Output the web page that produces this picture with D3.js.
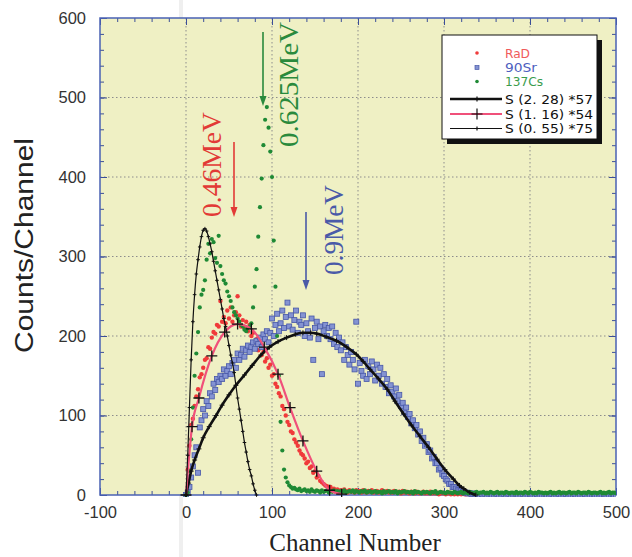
<!DOCTYPE html>
<html>
<head>
<meta charset="utf-8">
<script src="https://cdn.jsdelivr.net/npm/d3@7/dist/d3.min.js"></script>
<style>
  body { margin: 0; background: #fff; }
  svg { display: block; }
</style>
</head>
<body>
<div id="chart"></div>
<script>
// measured counts, one value every 2 channels starting at channel 0
var channelStep = 2;

var radCounts = [
  0, 32, 62, 88, 96, 112, 124, 133, 148, 152,
  160, 170, 172, 186, 184, 198, 205, 203, 214, 212,
  244, 218, 224, 216, 232, 222, 236, 218, 226, 230,
  250, 226, 212, 220, 210, 218, 206, 214, 200, 204,
  192, 196, 182, 190, 176, 180, 168, 172, 160, 164,
  150, 152, 140, 136, 128, 124, 112, 108, 100, 92,
  88, 80, 78, 70, 66, 62, 56, 52, 50, 46,
  40, 42, 34, 36, 28, 30, 22, 24, 18, 16,
  14, 12, 11, 9, 10, 7, 8, 6, 7, 5,
  6, 4, 7, 5, 3, 6, 4, 5, 3, 6,
  4, 5, 3, 6, 4, 3, 5, 4, 6, 3,
  4, 5, 3, 4, 6, 3, 4, 5, 3, 4,
  3, 5, 4, 3, 4, 2, 5, 3, 4, 3,
  2, 4, 3, 2, 4, 3, 2, 3, 4, 2,
  3, 2, 4, 2, 3, 2, 3, 1, 2, 3,
  2, 1, 2, 3, 1, 2, 1, 2, 1, 2,
  1, 2, 1, 1, 2, 1, 0, 1, 2, 1,
  1, 0, 1, 1, 0, 2, 1, 0, 1, 1,
  0, 1, 1, 0, 1, 0, 1, 1, 0, 1,
  1, 0, 1, 0, 1, 1, 0, 1, 0, 1,
  0, 1, 1, 0, 1, 0, 0, 1, 1, 0,
  1, 0, 1, 0, 0, 1, 0, 1, 0, 1,
  0, 1, 0, 0, 1, 0, 1, 0, 0, 1,
  0, 1, 0, 1, 0, 0, 1, 0, 1, 0,
  0, 1, 0, 0, 1, 0, 1, 0, 0, 1,
  0
];

var sr90Counts = [
  0, 3, 10, 22, 36, 50, 60, 28, 85, 94,
  108, 100, 118, 112, 128, 124, 140, 132, 146, 142,
  150, 146, 158, 150, 156, 162, 152, 166, 170, 160,
  178, 170, 176, 184, 174, 182, 188, 180, 186, 192,
  184, 194, 190, 198, 186, 202, 196, 206, 192, 204,
  222, 200, 214, 228, 206, 216, 232, 210, 224, 242,
  212, 226, 208, 220, 232, 204, 218, 214, 226, 200,
  216, 206, 198, 222, 170, 210, 218, 196, 212, 152,
  206, 214, 200, 210, 196, 212, 190, 204, 186, 198,
  182, 192, 170, 186, 176, 164, 180, 170, 158, 218,
  140, 166, 156, 150, 170, 146, 162, 152, 168, 158,
  144, 164, 150, 160, 140, 152, 136, 146, 128, 138,
  130, 124, 134, 118, 126, 112, 116, 104, 110, 98,
  102, 90, 94, 84, 88, 76, 80, 68, 72, 62,
  64, 54, 56, 46, 48, 40, 40, 32, 34, 26,
  24, 20, 18, 14, 14, 10, 10, 8, 6, 6,
  5, 4, 3, 3, 2, 2, 1, 2, 1, 1,
  1, 0, 1, 0, 1, 0, 0, 1, 0, 0,
  0, 1, 0, 0, 0, 1, 0, 0, 1, 0,
  0, 0, 1, 0, 0, 0, 1, 0, 0, 0,
  1, 0, 0, 0, 1, 0, 0, 0, 0, 1,
  0, 0, 0, 1, 0, 0, 0, 1, 0, 0,
  0, 1, 0, 0, 0, 0, 1, 0, 0, 0,
  0, 0, 1, 0, 0, 0, 0, 1, 0, 0,
  0, 0, 0, 1, 0, 0, 0, 0, 1, 0,
  0
];

var cs137Counts = [
  0, 3, 30, 70, 110, 150, 178, 205, 236, 252,
  258, 270, 296, 316, 304, 322, 318, 298, 292, 326,
  288, 278, 270, 266, 256, 250, 244, 236, 230, 226,
  222, 218, 214, 212, 208, 206, 210, 212, 216, 236,
  262, 284, 325, 362, 398, 440, 472, 488, 462, 432,
  400, 320, 262, 200, 150, 92, 56, 32, 22, 16,
  12, 10, 8, 9, 7, 6, 8, 5, 6, 7,
  5, 6, 4, 7, 5, 4, 6, 5, 3, 6,
  4, 5, 6, 3, 5, 4, 6, 4, 5, 3,
  5, 4, 6, 3, 4, 5, 4, 6, 3, 5,
  4, 3, 5, 4, 6, 3, 4, 5, 3, 4,
  5, 3, 4, 4, 2, 5, 3, 4, 5, 3,
  4, 3, 5, 2, 4, 3, 4, 5, 3, 4,
  3, 4, 2, 5, 3, 4, 3, 2, 4, 3,
  4, 3, 2, 4, 3, 5, 2, 3, 4, 3,
  3, 2, 4, 3, 3, 2, 4, 3, 2, 3,
  4, 2, 3, 3, 2, 4, 3, 2, 3, 4,
  2, 3, 3, 4, 2, 3, 2, 4, 3, 2,
  3, 4, 2, 3, 3, 2, 4, 3, 2, 3,
  3, 2, 4, 2, 3, 3, 2, 4, 3, 2,
  4, 3, 2, 3, 2, 4, 3, 3, 2, 3,
  2, 3, 4, 2, 3, 2, 3, 4, 2, 3,
  3, 2, 3, 4, 2, 3, 3, 2, 4, 3,
  2, 3, 3, 2, 4, 3, 2, 3, 3, 2,
  3, 4, 2, 3, 2, 3, 4, 2, 3, 3,
  2
];

// calculated spectra S(E)*k
var s228Channels = [0, 3, 6, 10, 15, 20, 27, 35, 42, 50, 58, 68, 77, 87, 97, 107, 117, 127, 136, 145,
  152, 163, 175, 187, 198, 206, 214, 224, 234, 243, 253, 262, 272, 282, 292, 301, 311, 318, 323, 330, 337];
var s228Counts = [0, 15, 30, 44, 58, 72, 86, 100, 113, 126, 138, 151, 163, 176, 186, 193, 198, 202, 204, 204,
  203, 199, 194, 186, 177, 168, 158, 146, 133, 118, 102, 88, 74, 60, 45, 32, 20, 12, 8, 3, 0];

var s116Channels = [0, 7, 15, 30, 45, 60, 76, 91, 107, 121, 136, 152, 167, 181];
var s116Counts = [0, 86, 122, 175, 205, 215, 209, 186, 152, 110, 68, 30, 6, 1];

var s055Channels = [0, 2, 4, 6, 8, 10, 12, 14, 16, 18, 20, 22, 24, 26, 28, 30, 32, 34, 36, 38, 40,
  42, 44, 46, 48, 50, 52, 54, 56, 58, 60, 62, 64, 66, 68, 70, 72, 74, 76, 78, 80, 82];
var s055Counts = [0, 50, 110, 170, 218, 252, 278, 296, 312, 325, 333, 335, 332, 325, 316, 306, 294, 282, 270, 258, 246,
  234, 222, 212, 200, 188, 176, 166, 154, 138, 122, 108, 94, 80, 66, 54, 42, 32, 24, 14, 6, 0];

var xTicks = [-100, 0, 100, 200, 300, 400, 500];
var yTicks = [0, 100, 200, 300, 400, 500, 600];
var legendLabels = ["RaD", "90Sr", "137Cs", "S (2. 28) *57", "S (1. 16) *54", "S (0. 55) *75"];
var peakLabels = ["0.46MeV", "0.625MeV", "0.9MeV"];

var width = 632, height = 557;
var svg = d3.select("#chart").append("svg")
  .attr("width", width).attr("height", height);

var x = d3.scaleLinear().domain([-100, 500]).range([100, 616]);
var y = d3.scaleLinear().domain([0, 600]).range([495, 18]);

function toPoints(counts) {
  return counts.map(function (v, i) { return [i * channelStep, v]; });
}
function zipPoints(chs, counts) {
  return chs.map(function (c, i) { return [c, counts[i]]; });
}

// faint page fold of the scan
svg.append("rect").attr("x", 179).attr("y", 0).attr("width", 4).attr("height", height)
  .attr("fill", "#efefef");

// plot area
svg.append("rect")
  .attr("x", x(-100)).attr("y", y(600))
  .attr("width", x(500) - x(-100)).attr("height", y(0) - y(600))
  .attr("fill", "#eff0c4");

svg.append("clipPath").attr("id", "plotclip").append("rect")
  .attr("x", x(-100)).attr("y", y(600))
  .attr("width", x(500) - x(-100)).attr("height", y(0) - y(600) + 2);

//grid
var grid = svg.append("g").attr("stroke", "#8c8c8c").attr("stroke-width", 1)
  .attr("stroke-dasharray", "1.5,2.5");
grid.selectAll("line.gx").data(xTicks.slice(1, -1)).enter().append("line")
  .attr("x1", function (d) { return x(d); }).attr("x2", function (d) { return x(d); })
  .attr("y1", y(600)).attr("y2", y(0));
grid.selectAll("line.gy").data(yTicks.slice(1, -1)).enter().append("line")
  .attr("y1", function (d) { return y(d); }).attr("y2", function (d) { return y(d); })
  .attr("x1", x(-100)).attr("x2", x(500));

//axes
var minorX = d3.range(-100, 501, 20), minorY = d3.range(0, 601, 20);
function styleAxis(g) {
  g.select(".domain").remove();
  g.selectAll(".tick line").attr("stroke", "#3c4f98");
  g.selectAll(".tick text").attr("fill", "#333")
    .style("font-family", "'Liberation Sans', Arial, sans-serif").style("font-size", "16.5px");
}
function addAxis(axis, tx, ty) {
  svg.append("g").attr("transform", "translate(" + tx + "," + ty + ")").call(axis).call(styleAxis);
}
addAxis(d3.axisBottom(x).tickValues(minorX).tickSize(-4).tickFormat(""), 0, y(0));
addAxis(d3.axisTop(x).tickValues(minorX).tickSize(-4).tickFormat(""), 0, y(600));
addAxis(d3.axisLeft(y).tickValues(minorY).tickSize(-4).tickFormat(""), x(-100), 0);
addAxis(d3.axisRight(y).tickValues(minorY).tickSize(-4).tickFormat(""), x(500), 0);
addAxis(d3.axisBottom(x).tickValues(xTicks).tickSize(-7).tickPadding(11)
  .tickFormat(function (d) { return String(d); }), 0, y(0));
addAxis(d3.axisTop(x).tickValues(xTicks).tickSize(-7).tickFormat(""), 0, y(600));
addAxis(d3.axisLeft(y).tickValues(yTicks).tickSize(-7).tickPadding(14)
  .tickFormat(function (d) { return String(d); }), x(-100), 0);
addAxis(d3.axisRight(y).tickValues(yTicks).tickSize(-7).tickFormat(""), x(500), 0);

// frame
svg.append("rect")
  .attr("x", x(-100)).attr("y", y(600))
  .attr("width", x(500) - x(-100)).attr("height", y(0) - y(600))
  .attr("fill", "none").attr("stroke", "#4a62b4").attr("stroke-width", 1.5);

var plot = svg.append("g").attr("clip-path", "url(#plotclip)");

//data points
plot.append("g").selectAll("circle").data(toPoints(radCounts)).enter().append("circle")
  .attr("cx", function (d) { return x(d[0]); })
  .attr("cy", function (d) { return y(d[1]); })
  .attr("r", 2.2).attr("fill", "#f03a3a");

plot.append("g").selectAll("rect").data(toPoints(sr90Counts)).enter().append("rect")
  .attr("x", function (d) { return x(d[0]) - 2.5; })
  .attr("y", function (d) { return y(d[1]) - 2.5; })
  .attr("width", 5).attr("height", 5)
  .attr("fill", "#8493d2").attr("stroke", "#4757a8").attr("stroke-width", 0.8);

plot.append("g").selectAll("circle").data(toPoints(cs137Counts)).enter().append("circle")
  .attr("cx", function (d) { return x(d[0]); })
  .attr("cy", function (d) { return y(d[1]); })
  .attr("r", 2.1).attr("fill", "#1f8a35");

// curves
var line = d3.line()
  .x(function (d) { return x(d[0]); })
  .y(function (d) { return y(d[1]); })
  .curve(d3.curveMonotoneX);

function plus(g, pts, arm, sw) {
  g.selectAll("path.m").data(pts).enter().append("path")
    .attr("d", function (d) {
      var px = x(d[0]), py = y(d[1]);
      return "M" + (px - arm) + "," + py + "H" + (px + arm) + "M" + px + "," + (py - arm) + "V" + (py + arm);
    })
    .attr("stroke", "#111").attr("stroke-width", sw).attr("fill", "none");
}

var s228 = zipPoints(s228Channels, s228Counts);
var s116 = zipPoints(s116Channels, s116Counts);
var s055 = zipPoints(s055Channels, s055Counts);

var g1 = plot.append("g");
g1.append("path").datum(s228).attr("d", line).attr("fill", "none")
  .attr("stroke", "#111").attr("stroke-width", 2.6);
plus(g1, s228, 2.5, 1);

var g2 = plot.append("g");
g2.append("path").datum(s116).attr("d", line).attr("fill", "none")
  .attr("stroke", "#f0507a").attr("stroke-width", 2.2);
plus(g2, s116, 5.5, 1.3);

var g3 = plot.append("g");
g3.append("path").datum(s055).attr("d", line).attr("fill", "none")
  .attr("stroke", "#111").attr("stroke-width", 1.2);
plus(g3, s055, 1.8, 1);

//peak annotations
function arrow(xp, y1, y2, color) {
  svg.append("line").attr("x1", xp).attr("x2", xp).attr("y1", y1).attr("y2", y2 - 6)
    .attr("stroke", color).attr("stroke-width", 1.6);
  svg.append("path")
    .attr("d", "M" + (xp - 3.5) + "," + (y2 - 10) + "L" + (xp + 3.5) + "," + (y2 - 10) + "L" + xp + "," + y2 + "Z")
    .attr("fill", color);
}
function vlabel(text, bx, by, len, color) {
  svg.append("text").attr("transform", "translate(" + bx + "," + by + ") rotate(-90)")
    .attr("textLength", len).attr("lengthAdjust", "spacingAndGlyphs")
    .style("font-family", "'Liberation Serif', 'Times New Roman', serif").style("font-size", "27px")
    .attr("fill", color).text(text);
}
vlabel(peakLabels[0], 221, 217, 105, "#e23a36");
arrow(234, 142, 217, "#e23a36");
vlabel(peakLabels[1], 298, 147, 125, "#2a8a3c");
arrow(263, 32, 106, "#2a8a3c");
vlabel(peakLabels[2], 343, 275, 90, "#4a5aa8");
arrow(306, 212, 290, "#4a5aa8");

// legend
var lg = svg.append("g");
lg.append("rect").attr("x", 447).attr("y", 40).attr("width", 155).attr("height", 104).attr("fill", "#111");
lg.append("rect").attr("x", 442).attr("y", 35).attr("width", 155).attr("height", 104)
  .attr("fill", "#fff").attr("stroke", "#111").attr("stroke-width", 1);

var legendFont = "'DejaVu Sans Condensed', 'DejaVu Sans', sans-serif";
var legendColors = ["#f05a5a", "#4e5fc0", "#3a9c4c", "#111", "#111", "#111"];
var legendLens = [25, 32, 38, 88, 88, 88];
var rowY = [53, 67.5, 81.5, 99, 114, 128.5];
legendLabels.forEach(function (t, i) {
  lg.append("text").attr("x", 505).attr("y", rowY[i] + 4.5)
    .attr("textLength", legendLens[i]).attr("lengthAdjust", "spacingAndGlyphs")
    .style("font-family", legendFont).style("font-size", "12.5px")
    .attr("fill", legendColors[i]).text(t);
});
lg.append("circle").attr("cx", 477).attr("cy", rowY[0]).attr("r", 1.8).attr("fill", "#f03c3c");
lg.append("rect").attr("x", 475).attr("y", rowY[1] - 2).attr("width", 4).attr("height", 4)
  .attr("fill", "#8493d2").attr("stroke", "#4757a8").attr("stroke-width", 0.7);
lg.append("circle").attr("cx", 477).attr("cy", rowY[2]).attr("r", 1.8).attr("fill", "#1f8a35");

var legLines = [
  { y: rowY[3], color: "#111", w: 2.6, arm: 2.5 },
  { y: rowY[4], color: "#f0507a", w: 2.2, arm: 5.5 },
  { y: rowY[5], color: "#111", w: 1.2, arm: 2 }
];
legLines.forEach(function (l) {
  lg.append("line").attr("x1", 450).attr("x2", 502).attr("y1", l.y).attr("y2", l.y)
    .attr("stroke", l.color).attr("stroke-width", l.w);
  lg.append("path").attr("d", "M" + (477 - l.arm) + "," + l.y + "H" + (477 + l.arm) + "M477," + (l.y - l.arm) + "V" + (l.y + l.arm))
    .attr("stroke", "#111").attr("stroke-width", 1.2);
});

// axis titles
svg.append("text").attr("transform", "translate(33,353) rotate(-90)")
  .attr("textLength", 215).attr("lengthAdjust", "spacingAndGlyphs")
  .style("font-family", "'Liberation Sans', Arial, sans-serif").style("font-size", "25px")
  .attr("fill", "#222").text("Counts/Channel");

svg.append("text").attr("x", 355).attr("y", 551).attr("text-anchor", "middle")
  .style("font-family", "'Liberation Serif', 'Times New Roman', serif").style("font-size", "25px")
  .attr("fill", "#222").text("Channel Number");
</script>
</body>
</html>
